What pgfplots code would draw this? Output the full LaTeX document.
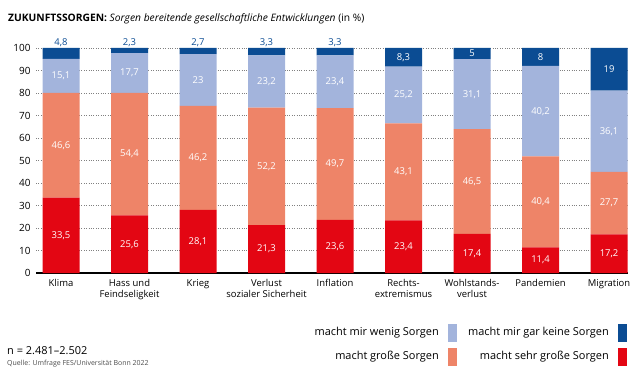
\documentclass[border=0pt]{standalone}
\usepackage{pgfplots}
\pgfplotsset{compat=1.18}
\usepackage{pgfplotstable}
\usepackage{fontspec}
\setmainfont{Open Sans}
\definecolor{cred}{HTML}{E30613}
\definecolor{csal}{HTML}{EE8468}
\definecolor{clb}{HTML}{A3B4DC}
\definecolor{cdb}{HTML}{0B4C93}
\pgfplotstableread{
x a b c d
0 33.5 46.6 15.1 4.8
1 25.6 54.4 17.7 2.3
2 28.1 46.2 23.0 2.7
3 21.3 52.2 23.2 3.3
4 23.6 49.7 23.4 3.3
5 23.4 43.1 25.2 8.3
6 17.4 46.5 31.1 5.0
7 11.4 40.4 40.2 8.0
8 17.2 27.7 36.1 19.0
}\data
\newcommand{\lab}[3]{\node[font=\fontsize{9.5}{10}\selectfont, text=white] at (axis cs:#1,#2) {#3};}
\newcommand{\toplab}[2]{\node[font=\fontsize{9.5}{10}\selectfont, text=cdb, anchor=south, inner sep=1bp] at (axis cs:#1,100) {#2};}
\newcommand{\alllabels}{%
\lab{0}{16.75}{33,5}\lab{0}{56.8}{46,6}\lab{0}{87.65}{15,1}\toplab{0}{4,8}
\lab{1}{12.8}{25,6}\lab{1}{52.8}{54,4}\lab{1}{88.85}{17,7}\toplab{1}{2,3}
\lab{2}{14.05}{28,1}\lab{2}{51.2}{46,2}\lab{2}{85.8}{23}\toplab{2}{2,7}
\lab{3}{10.65}{21,3}\lab{3}{47.4}{52,2}\lab{3}{85.1}{23,2}\toplab{3}{3,3}
\lab{4}{11.8}{23,6}\lab{4}{48.45}{49,7}\lab{4}{85.0}{23,4}\toplab{4}{3,3}
\lab{5}{11.7}{23,4}\lab{5}{44.95}{43,1}\lab{5}{79.1}{25,2}\lab{5}{95.85}{8,3}
\lab{6}{8.7}{17,4}\lab{6}{40.65}{46,5}\lab{6}{79.45}{31,1}\lab{6}{97.5}{5}
\lab{7}{5.7}{11,4}\lab{7}{31.6}{40,4}\lab{7}{71.9}{40,2}\lab{7}{96}{8}
\lab{8}{8.6}{17,2}\lab{8}{31.05}{27,7}\lab{8}{62.95}{36,1}\lab{8}{90.5}{19}}
\begin{document}
\begin{tikzpicture}[x=1bp,y=1bp]
\useasboundingbox (0,0) rectangle (640,380);
\node[anchor=base west, inner sep=0, font=\fontsize{10.3}{12}\selectfont] at (8,359) {\textbf{ZUKUNFTSSORGEN:} \textit{Sorgen bereitende gesellschaftliche Entwicklungen} (in \%)};
\begin{axis}[
  at={(36bp,107bp)}, anchor=south west,
  scale only axis, width=592bp, height=225bp,
  ybar stacked, bar width=37bp,
  xmin=-0.365, xmax=8.277, ymin=0, ymax=100,
  ytick={0,10,...,100},
  xtick=data,
  xticklabels={Klima,{Hass und\\Feindseligkeit},Krieg,{Verlust\\sozialer Sicherheit},Inflation,{Rechts-\\extremismus},{Wohlstands-\\verlust},Pandemien,Migration},
  xticklabel style={align=center, font=\fontsize{9.5}{11}\selectfont, anchor=north, yshift=-3bp},
  yticklabel style={font=\fontsize{10}{11}\selectfont, xshift=-2bp},
  /pgf/number format/assume math mode=true,
  axis lines*=left,
  y axis line style={draw=none},
  x axis line style={black, line width=1.3bp, -},
  tick style={draw=none},
  ymajorgrids, major grid style={gray, dotted, line width=0.7bp},
  clip=false,
  after end axis/.code={\alllabels},
]
\addplot[fill=cred, draw=none] table[x=x,y=a]{\data};
\addplot[fill=csal, draw=none] table[x=x,y=b]{\data};
\addplot[fill=clb, draw=none] table[x=x,y=c]{\data};
\addplot[fill=cdb, draw=none] table[x=x,y=d]{\data};
\end{axis}
% legend
\fill[clb] (448,38) rectangle (457,56);
\fill[cdb] (618,38) rectangle (627,56);
\fill[csal] (448,14) rectangle (457,32);
\fill[cred] (618,14) rectangle (627,32);
\node[anchor=east, inner sep=0, font=\fontsize{11}{13}\selectfont] at (439,47) {macht mir wenig Sorgen};
\node[anchor=east, inner sep=0, font=\fontsize{11}{13}\selectfont] at (609,47) {macht mir gar keine Sorgen};
\node[anchor=east, inner sep=0, font=\fontsize{11}{13}\selectfont] at (439,23) {macht große Sorgen};
\node[anchor=east, inner sep=0, font=\fontsize{11}{13}\selectfont] at (609,23) {macht sehr große Sorgen};
\node[anchor=west, inner sep=0, font=\fontsize{11}{12}\selectfont] at (7,29) {n = 2.481–2.502};
\node[anchor=west, inner sep=0, font=\fontsize{7}{8}\selectfont, text=black!70] at (7,16) {Quelle: Umfrage FES/Universität Bonn 2022};
\end{tikzpicture}
\end{document}
